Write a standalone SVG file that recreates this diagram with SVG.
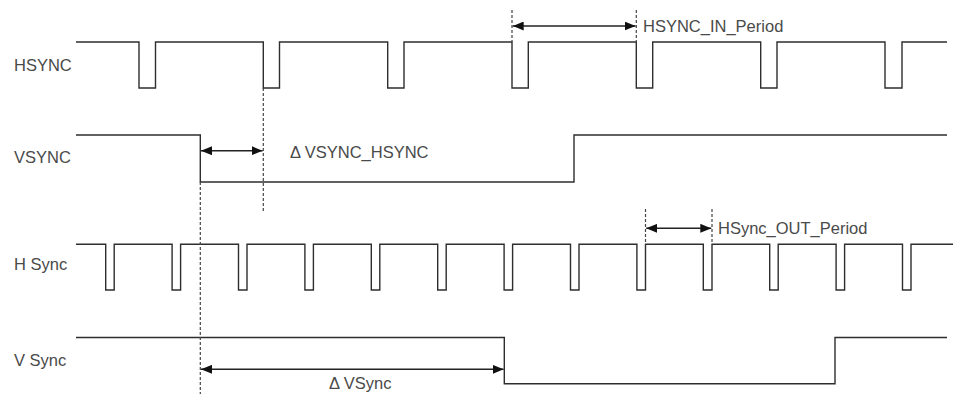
<svg xmlns="http://www.w3.org/2000/svg" width="959" height="394" viewBox="0 0 959 394">
<defs>
<style>
.sig{fill:none;stroke:#2e2e2e;stroke-width:1.4}
.dash{fill:none;stroke:#444;stroke-width:1.2;stroke-dasharray:3 2}
.arr{fill:none;stroke:#222;stroke-width:1.4;marker-start:url(#ah);marker-end:url(#ah)}
.lbl{font-family:"Liberation Sans",Arial,sans-serif;font-size:16.5px;fill:#4a4a4a}
</style>
<marker id="ah" markerUnits="userSpaceOnUse" markerWidth="11" markerHeight="9" viewBox="0 0 11 9" refX="11" refY="4.5" orient="auto-start-reverse">
<path d="M0,0 L11,4.5 L0,9 z" fill="#111"/>
</marker>
</defs>
<rect width="959" height="394" fill="#fff"/>
<g id="hsync">
<path class="sig" d="M76,42 H139 V88 H155.5 V42 H263.3 V88 H279.5 V42 H387.7 V88 H404 V42 H512 V88 H528.3 V42 H636.3 V88 H652.7 V42 H760.7 V88 H777 V42 H885 V88 H902 V42 H947"/>
<text class="lbl" x="14" y="71">HSYNC</text>
</g>
<g id="vsync">
<path class="sig" d="M76,135 H200.3 V182 H574 V135 H947"/>
<text class="lbl" x="14" y="163">VSYNC</text>
</g>
<g id="hsync-out">
<path class="sig" d="M76,244.3 H105.7 V290 H114.2 V244.3 H172.1 V290 H180.6 V244.3 H238.5 V290 H247 V244.3 H304.9 V290 H313.4 V244.3 H371.3 V290 H379.8 V244.3 H437.7 V290 H446.2 V244.3 H504.1 V290 H512.6 V244.3 H570.5 V290 H579 V244.3 H636.9 V290 H645.5 V244.3 H703.3 V290 H712 V244.3 H769.7 V290 H778.2 V244.3 H836.1 V290 H844.6 V244.3 H902.5 V290 H911 V244.3 H953"/>
<text class="lbl" x="14" y="270">H Sync</text>
</g>
<g id="vsync-out">
<path class="sig" d="M76,337.5 H504.3 V383.7 H835 V337.5 H947"/>
<text class="lbl" x="14" y="366">V Sync</text>
</g>
<g id="connectors">
<line class="dash" x1="200.3" y1="182" x2="200.3" y2="394"/>
<line class="dash" x1="263.3" y1="88" x2="263.3" y2="211"/>
<line class="dash" x1="512" y1="10" x2="512" y2="42"/>
<line class="dash" x1="636.3" y1="10" x2="636.3" y2="42"/>
<line class="dash" x1="645.5" y1="209" x2="645.5" y2="244"/>
<line class="dash" x1="712" y1="209" x2="712" y2="244"/>
<line class="arr" x1="512.7" y1="26" x2="635.6" y2="26"/>
<line class="arr" x1="201" y1="150.7" x2="262.6" y2="150.7"/>
<line class="arr" x1="646.2" y1="228.3" x2="711.3" y2="228.3"/>
<line class="arr" x1="201" y1="369.3" x2="503.6" y2="369.3"/>
</g>
<g id="labels">
<text class="lbl" x="643" y="32">HSYNC_IN_Period</text>
<text class="lbl" x="290" y="158">Δ VSYNC_HSYNC</text>
<text class="lbl" x="718" y="234">HSync_OUT_Period</text>
<text class="lbl" x="329" y="389">Δ VSync</text>
</g>
</svg>
